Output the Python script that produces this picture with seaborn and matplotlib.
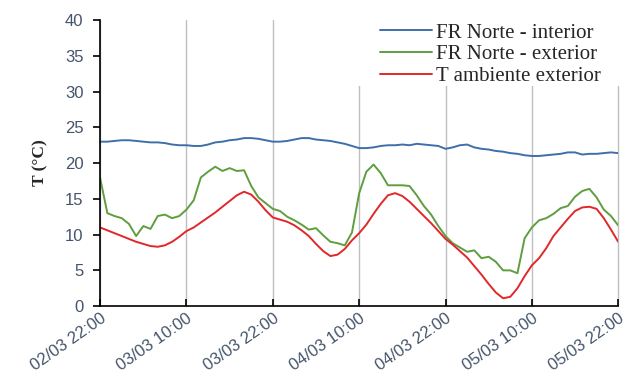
import numpy as np
import pandas as pd
import seaborn as sns
import matplotlib.pyplot as plt
import matplotlib.dates as mdates
from matplotlib.patches import Rectangle

# hourly readings from 02/03 22:00 to 05/03 22:00
times = pd.date_range("2023-03-02 22:00", periods=73, freq="h")

fr_interior = [
    23.0, 23.0, 23.1, 23.2, 23.2, 23.1, 23.0, 22.9, 22.9, 22.8, 22.6, 22.5,
    22.5, 22.4, 22.4, 22.6, 22.9, 23.0, 23.2, 23.3, 23.5, 23.5, 23.4, 23.2,
    23.0, 23.0, 23.1, 23.3, 23.5, 23.5, 23.3, 23.2, 23.1, 22.9, 22.7, 22.4,
    22.1, 22.1, 22.2, 22.4, 22.5, 22.5, 22.6, 22.5, 22.7, 22.6, 22.5, 22.4,
    22.0, 22.2, 22.5, 22.6, 22.2, 22.0, 21.9, 21.7, 21.6, 21.4, 21.3, 21.1,
    21.0, 21.0, 21.1, 21.2, 21.3, 21.5, 21.5, 21.2, 21.3, 21.3, 21.4, 21.5,
    21.4,
]
fr_exterior = [
    17.9, 13.0, 12.6, 12.3, 11.5, 9.8, 11.2, 10.8, 12.6, 12.8, 12.3, 12.6,
    13.5, 14.8, 18.0, 18.8, 19.5, 18.9, 19.3, 18.9, 19.0, 16.8, 15.2, 14.4,
    13.6, 13.3, 12.5, 12.0, 11.4, 10.7, 10.9, 9.9, 9.0, 8.8, 8.5, 10.3,
    15.8, 18.8, 19.8, 18.6, 16.9, 16.9, 16.9, 16.8, 15.5, 14.0, 12.8, 11.2,
    9.8, 8.8, 8.2, 7.6, 7.8, 6.7, 6.9, 6.2, 5.0, 5.0, 4.6, 9.5,
    11.0, 12.0, 12.3, 12.9, 13.7, 14.0, 15.3, 16.1, 16.4, 15.2, 13.5, 12.6,
    11.3,
]
t_ambiente = [
    11.0, 10.6, 10.2, 9.8, 9.4, 9.0, 8.7, 8.4, 8.3, 8.5, 9.0, 9.7,
    10.5, 11.0, 11.7, 12.4, 13.1, 13.9, 14.7, 15.5, 16.0, 15.6, 14.6, 13.4,
    12.4, 12.1, 11.8, 11.3, 10.6, 9.8, 8.7, 7.7, 7.0, 7.2, 8.0, 9.2,
    10.2, 11.4, 12.9, 14.3, 15.5, 15.8, 15.4, 14.6, 13.6, 12.6, 11.6, 10.5,
    9.4, 8.6, 7.7, 6.8, 5.6, 4.4, 3.1, 1.9, 1.1, 1.3, 2.5, 4.2,
    5.7, 6.7, 8.1, 9.8, 11.0, 12.2, 13.3, 13.8, 13.9, 13.6, 12.3, 10.7,
    9.0,
]
labels = ["FR Norte - interior", "FR Norte - exterior", "T ambiente exterior"]
colors = ["#3F6FA8", "#5E9E3E", "#E0282A"]

df = pd.concat([
    pd.DataFrame({"time": times, "T": vals, "serie": lab})
    for vals, lab in zip([fr_interior, fr_exterior, t_ambiente], labels)
])

sns.set_style("white")
plt.rcParams["font.family"] = ["Liberation Sans", "DejaVu Sans"]

fig = plt.figure(figsize=(6.26, 3.87), dpi=100)
ax = fig.add_axes([0.16, 0.209, 0.8275, 0.739])

sns.lineplot(data=df, x="time", y="T", hue="serie", hue_order=labels,
             palette=colors, linewidth=1.4, ax=ax)

ax.set_xlim(times[0], times[-1])
ax.set_ylim(0, 40)
ax.set_yticks(np.arange(0, 41, 5))
ax.xaxis.set_major_locator(mdates.HourLocator(byhour=[10, 22]))
ax.xaxis.set_major_formatter(mdates.DateFormatter("%d/%m %H:%M"))
ax.grid(axis="x", color="#BFBFBF", linewidth=1)
ax.set_axisbelow(True)
for gl in ax.get_xgridlines():
    gl.set_clip_on(False)

for s in ["top", "right"]:
    ax.spines[s].set_visible(False)
for s in ["left", "bottom"]:
    ax.spines[s].set_color("black")
    ax.spines[s].set_linewidth(1.2)

ax.tick_params(axis="y", direction="out", length=5, width=1.2, color="black",
               labelsize=12, labelcolor="#44546A", left=True, pad=7)
ax.tick_params(axis="x", direction="in", length=5, width=1.2, color="black",
               labelsize=12, labelcolor="#44546A", bottom=True)
plt.setp(ax.get_xticklabels(), rotation=35, ha="right", rotation_mode="anchor")

ax.set_xlabel("")
ax.set_ylabel("T (°C)", family="Liberation Serif", fontweight="bold",
              fontsize=12.5, color="#262626", labelpad=12)

# white legend area hides the grid lines behind it
ax.add_patch(Rectangle((0.49, 0.77), 0.53, 0.3, transform=ax.transAxes,
                       facecolor="white", edgecolor="none", zorder=1,
                       clip_on=False))

leg = ax.legend(loc="upper left", bbox_to_anchor=(0.540, 0.99), frameon=False,
                prop={"family": "Liberation Serif", "size": 15},
                handlelength=2.5, handletextpad=0.2, labelspacing=0.1,
                borderpad=0, borderaxespad=0)
for h in leg.get_lines():
    h.set_linewidth(1.4)

fig.savefig("out.png", dpi=100)
